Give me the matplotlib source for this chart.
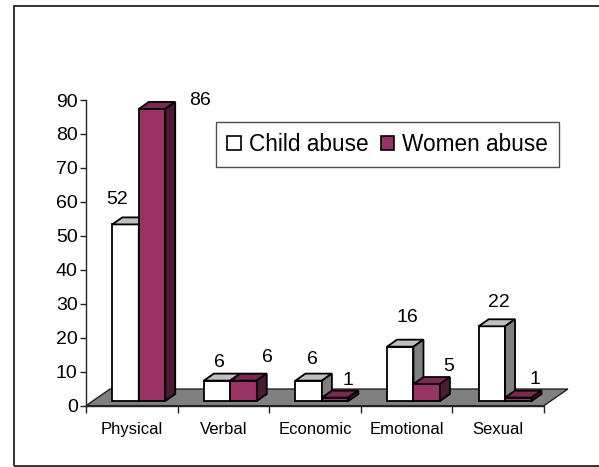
import matplotlib.pyplot as plt
from matplotlib.patches import Polygon, Patch, Rectangle

plt.rcParams['font.family'] = ['Liberation Sans', 'DejaVu Sans']

categories = ['Physical', 'Verbal', 'Economic', 'Emotional', 'Sexual']
child = [52, 6, 6, 16, 22]
women = [86, 6, 1, 5, 1]
series_names = ['Child abuse', 'Women abuse']

# label nudges in pixels (x right, y up from the front top edge), as excel placed them
child_lab_dx = [-8, 2, 4, 7, 7]
child_lab_dy = [25, 18, 21, 29, 24]
women_lab_dx = [48, 24, 13, 22, 17]
women_lab_dy = [8, 23, 17, 18, 18]

# face colours: front, top, side
child_cols = ('#ffffff', '#c0c0c0', '#808080')
women_cols = ('#993366', '#7a2952', '#4d1a33')

# fake 3d geometry (category units / value units)
w = 0.289          # bar width
fx, fy = 0.076, 1.38   # bar front offset from floor front
dx, dy = 0.109, 2.06   # bar depth
floor_dx, floor_dy = 0.262, 4.9

fig = plt.figure(figsize=(5.99, 4.67), dpi=100)
ax = fig.add_axes([0.1436, 0.1313, 0.7644, 0.6545])
ax.set_xlim(-0.5, 4.5)
ax.set_ylim(0, 90)

n = len(categories)
floor = Polygon([(-0.5, 0), (n - 0.5, 0), (n - 0.5 + floor_dx, floor_dy),
                 (-0.5 + floor_dx, floor_dy)], closed=True,
                facecolor='#808080', edgecolor='#222222', lw=1.0,
                clip_on=False, zorder=1)
ax.add_patch(floor)


def bar3d(x0, v, cols):
    y0 = fy
    y1 = fy + v
    x1 = x0 + w
    front = [(x0, y0), (x1, y0), (x1, y1), (x0, y1)]
    top = [(x0, y1), (x1, y1), (x1 + dx, y1 + dy), (x0 + dx, y1 + dy)]
    side = [(x1, y0), (x1 + dx, y0 + dy), (x1 + dx, y1 + dy), (x1, y1)]
    for pts, c in zip((front, top, side), cols):
        ax.add_patch(Polygon(pts, closed=True, facecolor=c, edgecolor='black',
                             lw=1.3, joinstyle='miter', clip_on=False, zorder=3))


for i in range(n):
    cx = i + fx
    bar3d(cx - w, child[i], child_cols)
    bar3d(cx, women[i], women_cols)
    ax.annotate(str(child[i]), (cx - w / 2, child[i] + fy),
                xytext=(child_lab_dx[i], child_lab_dy[i]),
                textcoords='offset pixels', ha='center', va='center',
                fontsize=14, zorder=5, annotation_clip=False)
    ax.annotate(str(women[i]), (cx + w / 2, women[i] + fy),
                xytext=(women_lab_dx[i], women_lab_dy[i]),
                textcoords='offset pixels', ha='center', va='center',
                fontsize=14, zorder=5, annotation_clip=False)

for s in ['top', 'right']:
    ax.spines[s].set_visible(False)
for s in ['left', 'bottom']:
    ax.spines[s].set_color('#222222')
    ax.spines[s].set_linewidth(1.0)
    ax.spines[s].set_zorder(2)

ax.set_yticks(range(0, 91, 10))
ax.tick_params(axis='y', direction='out', length=4, width=1, pad=2,
               labelsize=14, color='#222222')
ax.set_xticks([i - 0.5 for i in range(n + 1)])
ax.set_xticklabels([])
ax.tick_params(axis='x', which='major', direction='out', length=5, width=1,
               color='#222222')
ax.set_xticks(range(n), minor=True)
ax.set_xticklabels(categories, minor=True)
ax.tick_params(axis='x', which='minor', length=0, pad=12, labelsize=12)

handles = [Patch(facecolor=child_cols[0], edgecolor='black', lw=1.2),
           Patch(facecolor=women_cols[0], edgecolor='black', lw=1.2)]
leg = fig.legend(handles, series_names, ncol=2, loc='upper left',
                 bbox_to_anchor=(215.7 / 599, 1 - 121.7 / 467),
                 fontsize=16.3, frameon=True, fancybox=False, shadow=False,
                 handlelength=0.6, handleheight=0.6, handletextpad=0.35,
                 columnspacing=0.55, borderpad=0.5, borderaxespad=0)
leg.get_frame().set_edgecolor('#222222')
leg.get_frame().set_linewidth(1.0)

fig.add_artist(Rectangle((14 / 599, 1 / 467), 1.0, 460 / 467,
                         transform=fig.transFigure, fill=False,
                         edgecolor='#222222', lw=1.3))

fig.savefig('out.png', dpi=100)
